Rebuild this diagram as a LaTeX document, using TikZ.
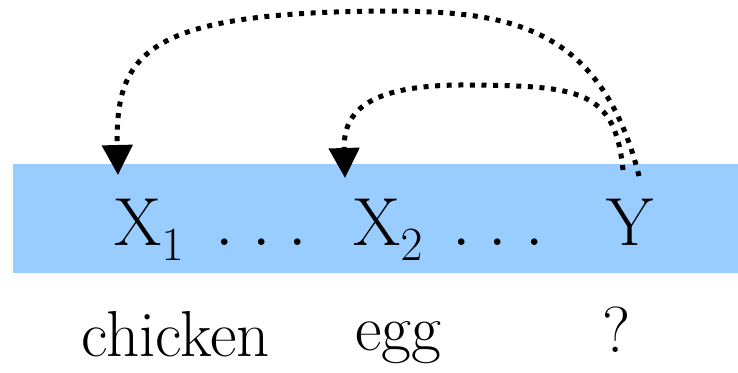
\RequirePackage{fix-cm}
\documentclass[tikz,border=0pt]{standalone}
\usetikzlibrary{arrows.meta}
\definecolor{bandblue}{RGB}{153,204,255}
\newcommand{\gapdots}{.\mkern4.8mu.\mkern4.8mu.}
\newcommand{\lowsub}[1]{_{\lower2.5pt\hbox{$\scriptstyle#1$}}}
\begin{document}
\begin{tikzpicture}[x=0.5pt,y=0.5pt,>={Triangle[length=15pt,width=15pt]},
  tok/.style={inner sep=0pt,font=\fontsize{34}{40}\selectfont},
  lbl/.style={inner sep=0pt,anchor=base,font=\fontsize{32.5}{38}\selectfont},
  link/.style={->,line width=2.5pt,dash pattern=on 2.5pt off 3.3pt}]
\useasboundingbox (0,0) rectangle (738,372);
\fill[bandblue] (13,99) rectangle (738,208);
\node[tok,anchor=base west] (X1) at (114,127) {$\mathrm{X}\lowsub{1}$};
\node[tok,anchor=base] (d1) at (261.5,127) {$\gapdots$};
\node[tok,anchor=base west] (X2) at (353,127) {$\mathrm{X}\lowsub{2}$};
\node[tok,anchor=base] (d2) at (498,127) {$\gapdots$};
\node[tok,anchor=base west] (Y) at (606,127) {$\mathrm{Y}$};
\node[lbl] (c1) at (175.5,16) {chicken};
\node[lbl] (c2) at (398.5,22) {egg};
\node[lbl] (c3) at (616.5,20) {?};
\draw[link] ([shift={(33,69)}]Y.base west) .. controls +(-39,156) and +(110,-1) .. (390,361)
  .. controls +(-240,-1) and +(-3,125) .. ([shift={(4,70)}]X1.base west);
\draw[link] ([shift={(17,75)}]Y.base west) .. controls +(-8,80) and +(110,-1) .. (470,287)
  .. controls +(-100,1) and +(-2,68) .. ([shift={(-8,67)}]X2.base west);
\end{tikzpicture}
\end{document}
